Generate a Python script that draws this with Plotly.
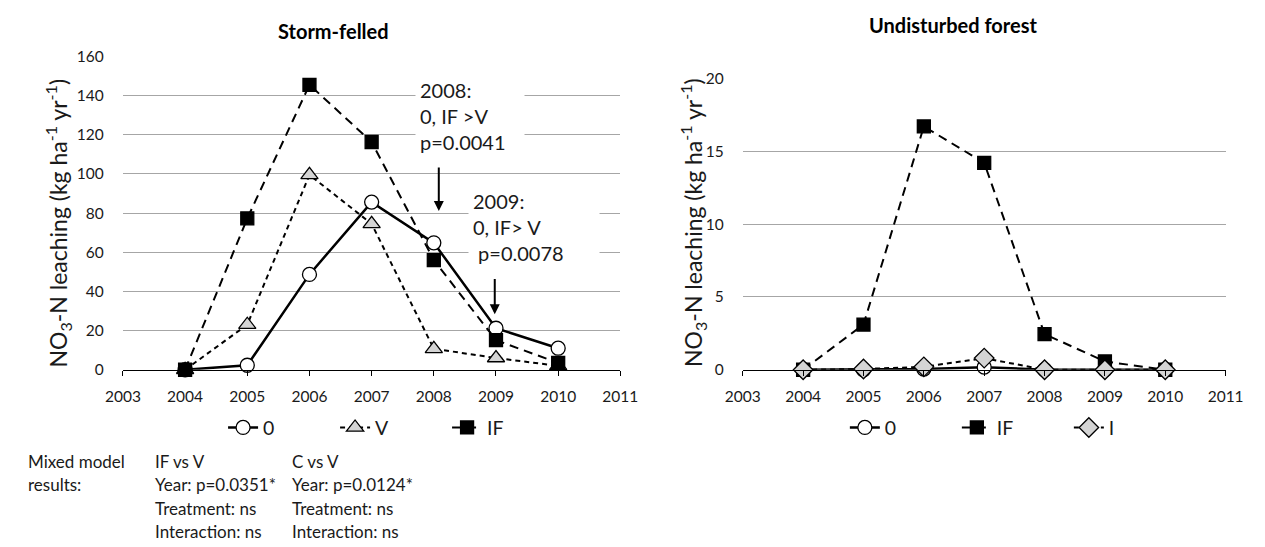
import plotly.graph_objects as go

W, H = 1265, 547

years = [2004, 2005, 2006, 2007, 2008, 2009, 2010]

# Storm-felled stand, NO3-N leaching (kg ha-1 yr-1)
storm_0 = [0, 2.3, 48.7, 85.6, 64.8, 21.2, 11.0]
storm_V = [0, 23.0, 99.5, 74.5, 10.7, 6.0, 2.0]
storm_IF = [0, 77.3, 145.5, 116.3, 56.0, 15.1, 3.5]

# Undisturbed forest, NO3-N leaching (kg ha-1 yr-1)
forest_0 = [0, 0.0, 0.05, 0.18, 0.0, 0.0, 0.0]
forest_IF = [0, 3.1, 16.7, 14.2, 2.45, 0.57, 0.0]
forest_I = [0, 0.05, 0.2, 0.8, 0.0, 0.0, 0.0]

FONT = "Lato"
GRID = "#a6a6a6"
FILL_GREY = "#d4d4d4"
TEXT = "#1a1a1a"


def px_x(p):
    return p / W


def px_y(p):
    return 1 - p / H


fig = go.Figure()


def add_series(x, y, name, symbol, fill, size, dash, width, xa, ya, legend):
    fig.add_trace(go.Scatter(
        x=x, y=y, name=name, mode="lines+markers",
        line=dict(color="black", width=width, dash=dash),
        marker=dict(symbol=symbol, size=size, color=fill,
                    line=dict(color="black", width=1.3)),
        xaxis=xa, yaxis=ya, legend=legend, cliponaxis=False,
    ))


# left panel
add_series(years, storm_0, "0", "circle", "white", 14, "solid", 2.5, "x", "y", "legend")
add_series(years, storm_V, "V", "triangle-up", FILL_GREY, 15, "5px,4px", 2, "x", "y", "legend")
add_series(years, storm_IF, "IF", "square", "black", 13, "9px,6px", 2, "x", "y", "legend")

# right panel
add_series(years, forest_0, "0", "circle", "white", 14, "solid", 2.5, "x2", "y2", "legend2")
add_series(years, forest_IF, "IF", "square", "black", 13, "9px,6px", 2, "x2", "y2", "legend2")
add_series(years, forest_I, "I", "diamond", FILL_GREY, 15, "5px,4px", 2, "x2", "y2", "legend2")

tickfont = dict(family=FONT, size=15.5, color=TEXT)

xaxis_common = dict(
    range=[2003, 2011], tick0=2003, dtick=1, showline=True, linecolor="black",
    linewidth=1, ticks="outside", ticklen=5, tickcolor="black", tickwidth=1,
    ticklabelstandoff=8,
    showgrid=False, zeroline=False, tickfont=tickfont, fixedrange=True,
)
yaxis_common = dict(
    showgrid=True, gridcolor=GRID, gridwidth=1, zeroline=False, showline=False,
    ticks="outside", ticklen=15, tickcolor="rgba(0,0,0,0)",
    tickfont=tickfont, fixedrange=True,
)

legend_common = dict(
    orientation="h", yanchor="middle", xanchor="center",
    entrywidth=67, entrywidthmode="pixels", itemwidth=30,
    font=dict(family=FONT, size=19.5, color=TEXT),
    bgcolor="rgba(0,0,0,0)",
)

fig.update_layout(
    width=W, height=H,
    margin=dict(l=0, r=0, t=0, b=0),
    paper_bgcolor="white", plot_bgcolor="white",
    font=dict(family=FONT, color=TEXT),
    xaxis=dict(domain=[px_x(108), px_x(620)], anchor="y", **xaxis_common),
    yaxis=dict(domain=[px_y(372), px_y(48)], range=[0, 160], dtick=20,
               anchor="x", **yaxis_common),
    xaxis2=dict(domain=[px_x(746), px_x(1243)], anchor="y2", **xaxis_common),
    yaxis2=dict(domain=[px_y(372), px_y(70.7)], range=[0, 20], dtick=5,
                anchor="x2", **yaxis_common),
    legend=dict(x=px_x(384), y=px_y(432), **legend_common),
    legend2=dict(x=px_x(1024), y=px_y(432), **legend_common),
    showlegend=True,
)

annotations = []

# panel titles
annotations.append(dict(text="<b>Storm-felled</b>", xref="paper", yref="paper",
                        x=px_x(325), y=px_y(22), xanchor="center", yanchor="middle",
                        showarrow=False,
                        font=dict(family=FONT, size=20, color="black")))
annotations.append(dict(text="<b>Undisturbed forest</b>", xref="paper", yref="paper",
                        x=px_x(962), y=px_y(16), xanchor="center", yanchor="middle",
                        showarrow=False,
                        font=dict(family=FONT, size=20, color="black")))

# y-axis titles
ytitle = "NO<sub>3</sub>-N leaching (kg ha<sup>-1</sup> yr<sup>-1</sup>)"
for xc in (41, 695):
    annotations.append(dict(text=ytitle, xref="paper", yref="paper",
                            x=px_x(xc), y=px_y(220), xanchor="center",
                            yanchor="middle", textangle=-90, showarrow=False,
                            font=dict(family=FONT, size=23, color=TEXT)))

# significance boxes and arrows in the storm-felled panel
annotations.append(dict(text="2008:<br>0, IF >V<br>p=0.0041", xref="x", yref="y",
                        x=2007.69, y=129.6, xanchor="left", yanchor="middle",
                        align="left", width=100, borderpad=4, bgcolor="white",
                        showarrow=False,
                        font=dict(family=FONT, size=20, color=TEXT)))
annotations.append(dict(text="2009:<br>0, IF> V<br>\u00a0p=0.0078", xref="x", yref="y",
                        x=2008.55, y=72.8, xanchor="left", yanchor="middle",
                        align="left", width=122, borderpad=4, bgcolor="white",
                        showarrow=False,
                        font=dict(family=FONT, size=20, color=TEXT)))
for xt, ytip, ytail in ((2008.08, 81.1, 104.0), (2008.98, 28.3, 47.1)):
    annotations.append(dict(text="", xref="x", yref="y", x=xt, y=ytip,
                            axref="x", ayref="y", ax=xt, ay=ytail,
                            showarrow=True, arrowhead=2, arrowsize=1,
                            arrowwidth=2, arrowcolor="black"))

# mixed model results below the left panel
notes = [
    (8, ["Mixed model", "results:"]),
    (139, ["IF vs V", "Year: p=0.0351*", "Treatment: ns", "Interaction: ns"]),
    (280, ["C vs V", "Year: p=0.0124*", "Treatment: ns", "Interaction: ns"]),
]
for xl, lines in notes:
    for i, line in enumerate(lines):
        annotations.append(dict(text=line, xref="paper", yref="paper",
                                x=px_x(xl), y=px_y(467 + 24 * i),
                                xanchor="left", yanchor="middle", showarrow=False,
                                font=dict(family=FONT, size=17, color=TEXT)))

fig.update_layout(annotations=annotations)

fig.write_html("out.html")
